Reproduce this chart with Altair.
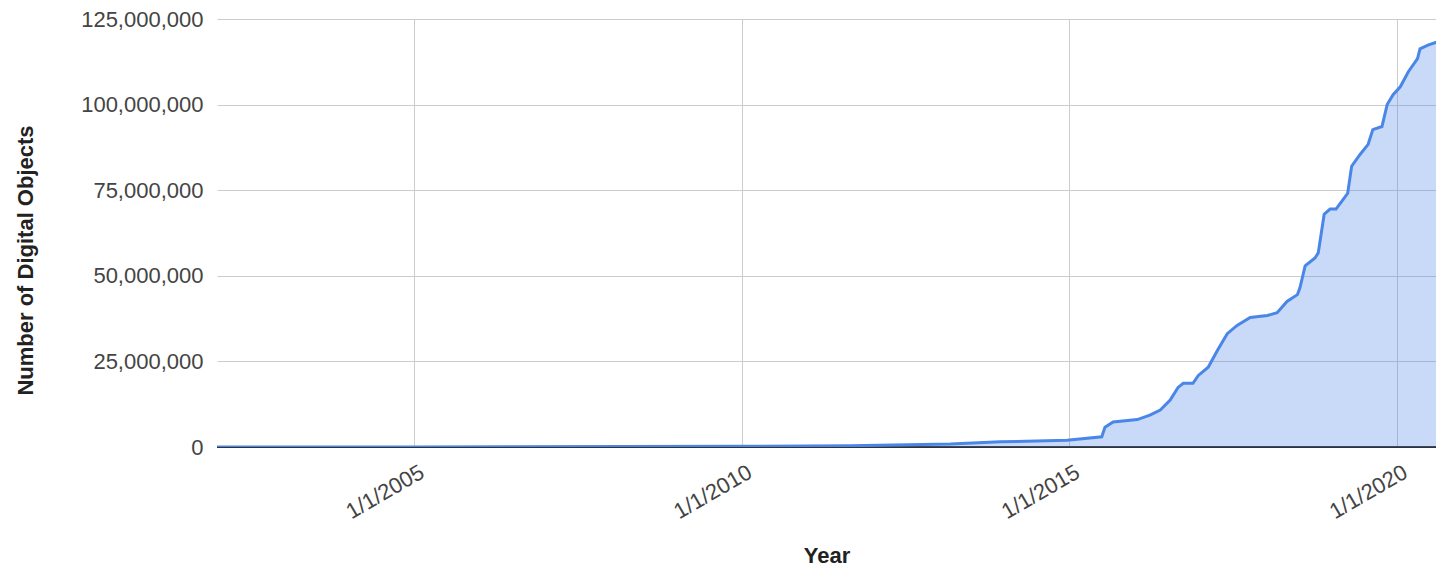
import altair as alt
import pandas as pd

dates = ["2002-01-01", "2005-01-01", "2010-01-01", "2011-08-28", "2013-03-10", "2013-12-14",
         "2014-12-20", "2015-07-01", "2015-07-19", "2015-09-02", "2016-01-15", "2016-03-25",
         "2016-05-22", "2016-07-16", "2016-08-29", "2016-09-27", "2016-11-20", "2016-12-20",
         "2017-02-13", "2017-04-05", "2017-05-30", "2017-07-24", "2017-10-05", "2018-01-08",
         "2018-03-04", "2018-04-28", "2018-06-25", "2018-07-09", "2018-08-07", "2018-10-01",
         "2018-10-19", "2018-11-21", "2018-12-24", "2019-01-26", "2019-03-08", "2019-04-01",
         "2019-04-23", "2019-06-10", "2019-07-24", "2019-08-19", "2019-10-09", "2019-11-07",
         "2019-12-10", "2020-01-19", "2020-03-04", "2020-04-24", "2020-05-08", "2020-06-21",
         "2020-08-12", "2020-09-21"]

objects_millions = [0, 0.02, 0.2, 0.35, 0.9, 1.5,
                    2.0, 3.0, 5.8, 7.3, 8.0, 9.3,
                    10.8, 13.7, 17.4, 18.6, 18.6, 20.9,
                    23.3, 28.2, 33.1, 35.5, 37.8, 38.4,
                    39.2, 42.5, 44.5, 46.5, 52.9, 55.2,
                    56.7, 68.0, 69.5, 69.5, 72.4, 74.1,
                    82.0, 85.5, 88.4, 92.7, 93.6, 100.0,
                    102.9, 105.2, 109.6, 113.4, 116.3, 117.4,
                    118.3, 121.0]

y_ticks = [0, 25000000, 50000000, 75000000, 100000000, 125000000]
x_tick_years = [2005, 2010, 2015, 2020]

df = pd.DataFrame({
    "date": dates,
    "objects": [round(v * 1_000_000) for v in objects_millions],
})

x_domain = [alt.DateTime(year=2002, month=1, date=1, utc=True),
            alt.DateTime(year=2020, month=8, date=5, utc=True)]
x_values = [alt.DateTime(year=y, month=1, date=1, utc=True) for y in x_tick_years]

x_enc = alt.X(
    "date:T",
    scale=alt.Scale(type="utc", domain=x_domain),
    axis=alt.Axis(
        values=x_values,
        labelExpr="utcFormat(datum.value, '%-m/%-d/%Y')",
        grid=True, gridColor="#cccccc", gridWidth=1,
        ticks=False, domain=False,
        labelAngle=-30, labelAlign="right", labelBaseline="middle",
        labelPadding=23, labelOffset=8,
        labelFontSize=22, labelColor="#444444",
        title="Year", titleFontSize=22, titleFontWeight="bold", titleColor="#222222",
        titleY=98, titleBaseline="top",
    ),
)
y_enc = alt.Y(
    "objects:Q",
    scale=alt.Scale(domain=[0, 125000000], nice=False),
    axis=alt.Axis(
        values=y_ticks, format=",d",
        grid=True, gridColor="#cccccc", gridWidth=1,
        ticks=False, domain=False,
        labelPadding=14, labelFontSize=22, labelColor="#444444",
        title="Number of Digital Objects", titleFontSize=22, titleFontWeight="bold",
        titleColor="#222222", titleX=-180, titleY=241,
    ),
)

base = alt.Chart(df)

baseline = base.mark_rule(color="#333333", strokeWidth=1).encode(y=alt.datum(0))
area = base.mark_area(color="#4a86e8", fillOpacity=0.3, interpolate="linear", clip=True).encode(x=x_enc, y=y_enc)
line = base.mark_line(color="#4a86e8", strokeWidth=3, interpolate="linear", clip=True).encode(x=x_enc, y=y_enc)

chart = alt.layer(baseline, area, line).properties(
    width=1219, height=428,
    padding={"left": 209, "top": 11, "right": 0, "bottom": 119},
    autosize=alt.AutoSizeParams(type="none"),
).configure(
    font="Liberation Sans",
).configure_view(stroke=None)

chart.save("out.html", embed_options={"renderer": "svg", "actions": False})
